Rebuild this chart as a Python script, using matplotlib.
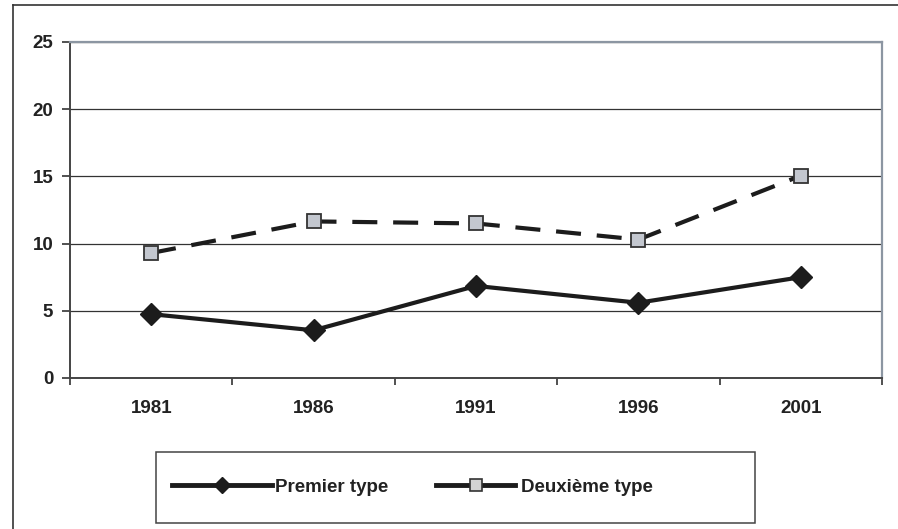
import matplotlib.pyplot as plt
from matplotlib.lines import Line2D
from matplotlib.patches import Rectangle

plt.rcParams['font.family'] = ['Liberation Sans', 'DejaVu Sans']
plt.rcParams['font.weight'] = 'bold'

# data
years = ['1981', '1986', '1991', '1996', '2001']
premier = [4.75, 3.55, 6.85, 5.6, 7.5]
deuxieme = [9.3, 11.65, 11.5, 10.3, 15.05]
y_ticks = [0, 5, 10, 15, 20, 25]

dark = '#1c1c1c'
border = '#8c96a2'
fs = 13.5

fig = plt.figure(figsize=(8.98, 5.29), dpi=100)
ax = fig.add_axes([70 / 898, 1 - 378 / 529, 812 / 898, 336 / 529])

x = range(len(years))
ax.plot(x, deuxieme, color=dark, lw=3, dashes=(6, 3.8),
        marker='s', ms=9.5, mfc='#c3c7cf', mec='#333333', mew=1.3, zorder=3)
ax.plot(x, premier, color=dark, lw=3,
        marker='D', ms=11, mfc=dark, mec=dark, mew=1, zorder=4)

ax.set_xlim(-0.5, len(years) - 0.5)
ax.set_ylim(0, 25)
ax.set_yticks(y_ticks)
ax.set_yticklabels([str(v) for v in y_ticks])
ax.grid(axis='y', color='#333333', lw=0.9)
ax.set_axisbelow(True)

# ticks between categories, labels at centres
ax.set_xticks([i - 0.5 for i in range(len(years) + 1)])
ax.set_xticklabels([])
ax.set_xticks(list(x), minor=True)
ax.set_xticklabels(years, minor=True)
ax.tick_params(axis='x', which='major', length=5, width=1.2, color='#333333', direction='out')
ax.tick_params(axis='x', which='minor', length=0, pad=16, labelsize=fs, labelcolor='#222222')
ax.tick_params(axis='y', length=6, width=1.2, color='#333333', pad=6, labelsize=fs, labelcolor='#222222')

for s in ['left', 'bottom']:
    ax.spines[s].set_color('#444444')
    ax.spines[s].set_linewidth(1.4)
for s in ['top', 'right']:
    ax.spines[s].set_color(border)
    ax.spines[s].set_linewidth(1.6)

# outer chart frame (only left and top visible)
fig.add_artist(Line2D([12.5 / 898, 12.5 / 898], [0, 1 - 5 / 529], transform=fig.transFigure,
                      color='#333333', lw=1.2))
fig.add_artist(Line2D([12.5 / 898, 1], [1 - 5 / 529, 1 - 5 / 529], transform=fig.transFigure,
                      color='#333333', lw=1.2))

# legend box
fig.add_artist(Rectangle((156 / 898, 1 - 522.7 / 529), 599 / 898, 71 / 529,
                         transform=fig.transFigure, fill=False, ec='#444444', lw=1.1))

h1 = Line2D([], [], color=dark, lw=3.5, marker='D', ms=8.5, mfc=dark, mec=dark)
h2 = Line2D([], [], color=dark, lw=3.5, marker='s', ms=9, mfc='#d2d2d2', mec='#333333', mew=1.2)
em = fs * 100 / 72
pad = 0.4 * em
leg1 = fig.legend([h1], ['Premier type'], loc='center left',
                  bbox_to_anchor=((172 - pad) / 898, 1 - 487 / 529), frameon=False,
                  fontsize=fs, handlelength=100 / em, handletextpad=0.15,
                  borderaxespad=0, labelcolor='#222222')
leg2 = fig.legend([h2], ['Deuxième type'], loc='center left',
                  bbox_to_anchor=((436 - pad) / 898, 1 - 487 / 529), frameon=False,
                  fontsize=fs, handlelength=79 / em, handletextpad=0.3,
                  borderaxespad=0, labelcolor='#222222')

fig.savefig('out.png', dpi=100)
